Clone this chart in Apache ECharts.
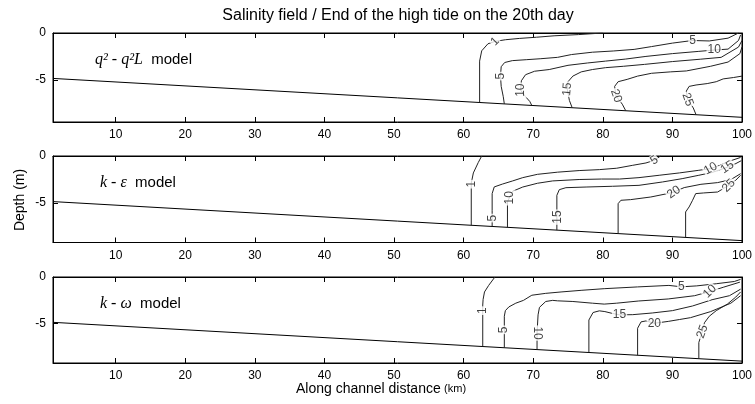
<!DOCTYPE html>
<html><head><meta charset="utf-8">
<script src="https://cdn.jsdelivr.net/npm/echarts@6/dist/echarts.min.js"></script>
<style>html,body{margin:0;padding:0;background:#fff}#c{width:755px;height:404px}</style>
</head><body><div id="c"></div>
<script>
// ---------- data ----------
const xTicks = [10, 20, 30, 40, 50, 60, 70, 80, 90, 100];
const yTicks = [0, -5];
const bottomLine = [[1, -4.85], [100, -9.0]];

// Panel 1: q2 - q2L model
const p1c1 = [[62.3,-7.42],[62.3,-3.0],[62.6,-1.9],[63.5,-1.15],[64.5,-0.9],[66,-0.72],[68,-0.58],[70.5,-0.45],[73,-0.3],[76.5,-0.17],[80,0]];
const p1c5 = [[65.85,-7.57],[65.7,-6.8],[65.4,-5.7],[65.3,-4.6],[65.4,-3.6],[65.9,-3.15],[67,-2.95],[69,-2.85],[71,-2.75],[73.5,-2.6],[75.5,-2.3],[78.5,-2.05],[81.5,-1.92],[84.5,-1.75],[87,-1.45],[90,-1.08],[92.9,-0.8],[95.3,-0.85],[98,-0.55],[99.5,0]];
const p1c10 = [[69.8,-7.73],[69.5,-7.3],[68.9,-6.8],[68.2,-6.1],[68.3,-5.1],[68.9,-4.45],[70.2,-4.08],[72.3,-3.9],[75,-3.45],[77.8,-3.2],[80.4,-3.0],[83.3,-2.78],[86.2,-2.5],[90,-2.2],[93.8,-1.96],[96,-1.82],[98,-1.72],[99.5,-0.8],[99.8,-0.2]];
const p1c15 = [[75.6,-7.98],[75.2,-7.2],[74.9,-6.0],[75.0,-5.2],[75.7,-4.6],[76.9,-4.15],[78.5,-3.9],[80.4,-3.7],[83,-3.55],[86,-3.35],[90,-3.05],[94,-2.8],[97,-2.6],[99.5,-1.5],[100,-0.8]];
const p1c20 = [[83.3,-8.3],[82.8,-7.6],[81.9,-6.72],[81.7,-5.7],[82.2,-5.2],[83.5,-4.95],[85,-4.6],[87,-4.3],[89.7,-4.15],[92,-4.05],[95.5,-3.55],[98,-3.1],[99.7,-2.2],[100,-1.5]];
const p1c25 = [[93.4,-8.72],[93.0,-8.0],[92.2,-7.1],[92.0,-6.2],[92.4,-5.7],[93.4,-5.55],[95,-5.4],[96.3,-5.2],[97.3,-4.9],[98.8,-4.75],[100,-4.6]];
const p1Labels = [[64.5,-0.9,'1'],[65.3,-4.6,'5'],[92.9,-0.8,'5'],[68.2,-6.1,'10'],[96,-1.82,'10'],[74.9,-6.0,'15'],[81.9,-6.72,'20'],[92.2,-7.1,'25']];
const p1Rot = [45, 90, 0, 90, 0, 85, -70, -70];

// Panel 2: k - epsilon model
const p2c1 = [[62.6,0],[62.1,-0.7],[61.4,-1.8],[61.1,-2.9],[61.1,-7.37]];
const p2c5 = [[64.1,-7.5],[64.1,-5.78],[64.1,-4.0],[64.4,-3.29],[65.6,-2.98],[67.05,-2.65],[68.5,-2.3],[70.6,-1.95],[73.5,-1.72],[76.6,-1.55],[79.5,-1.45],[82,-1.3],[84.3,-0.99],[86.2,-0.74],[87.4,-0.46],[88.3,0]];
const p2c10 = [[66.3,-7.59],[66.3,-4.89],[66.6,-4.4],[67.05,-3.75],[68.5,-3.3],[70.6,-2.9],[72.8,-2.65],[76.6,-2.5],[79.8,-2.45],[82.4,-2.45],[85.2,-2.3],[88.1,-2.05],[91,-1.8],[93.8,-1.52],[95.5,-1.34],[96.8,-1.0],[98,-0.6],[99.8,-0.15]];
const p2c15 = [[73.4,-7.885],[73.4,-6.5],[73.4,-4.18],[73.75,-3.58],[74.7,-3.37],[77.6,-3.3],[81.4,-3.22],[85.2,-3.12],[88.6,-2.76],[91.4,-2.41],[93.8,-2.05],[95.7,-1.75],[97.9,-1.2],[99,-0.85],[99.9,-0.5]];
const p2c20 = [[82.2,-8.25],[82.2,-5.07],[82.6,-4.71],[84.0,-4.64],[86.9,-4.36],[89.3,-4.0],[90.2,-3.83],[91.7,-3.36],[94.1,-3.01],[96.5,-2.83],[98.4,-2.51],[99.8,-1.88]];
const p2c25 = [[91.9,-8.66],[91.9,-5.95],[92.4,-5.42],[92.9,-4.71],[93.35,-4.0],[94.5,-3.93],[96.5,-3.83],[98.1,-3.12],[99.1,-2.58],[99.8,-2.05]];
const p2Labels = [[61.1,-3.0,'1'],[64.2,-6.6,'5'],[87.4,-0.46,'5'],[66.6,-4.45,'10'],[95.5,-1.34,'10'],[73.45,-6.5,'15'],[97.9,-1.2,'15'],[90.2,-3.85,'20'],[98.1,-3.15,'25']];
const p2Rot = [90, 90, 35, 90, 30, 90, 35, 35, 45];

// Panel 3: k - omega model
const p3c1 = [[64.5,0],[63.6,-0.9],[63.0,-1.6],[62.8,-2.4],[62.75,-3.0],[62.75,-7.44]];
const p3c5 = [[65.85,-7.57],[65.85,-5.65],[65.85,-4.2],[66.0,-3.6],[66.5,-3.2],[67.5,-2.8],[68.6,-2.5],[69.8,-1.95],[71.8,-1.75],[74,-1.6],[77,-1.42],[80.2,-1.25],[85,-1.06],[89.5,-0.9],[91.3,-1.05],[93.5,-0.95],[96.3,-0.72],[98.9,-0.48],[99.8,-0.25]];
const p3c10 = [[70.55,-7.76],[70.55,-6.0],[70.7,-4.05],[70.9,-3.25],[71.8,-2.62],[72.8,-2.5],[73.5,-2.55],[75.7,-2.62],[78.5,-2.8],[80.2,-2.9],[82,-2.8],[85.1,-2.57],[89.4,-2.35],[93.2,-2.0],[95.4,-1.55],[97.3,-1.1],[99.7,-0.55]];
const p3c15 = [[78.0,-8.07],[78.0,-4.6],[78.6,-3.8],[79.5,-3.62],[80.3,-3.7],[81.4,-3.9],[82.4,-4.05],[84.3,-4.03],[87.1,-3.85],[90,-3.6],[92.9,-3.1],[95.7,-2.43],[98.2,-2.0],[99.8,-1.3]];
const p3c20 = [[85,-8.37],[85,-5.48],[85.5,-4.8],[86.2,-4.7],[87.4,-4.95],[89.4,-4.75],[91,-4.55],[92.6,-4.35],[95.5,-3.7],[98.4,-2.8],[99.8,-2.0]];
const p3c25 = [[93.8,-8.74],[93.8,-7.0],[94.3,-5.83],[94.6,-4.9],[95.3,-4.2],[96.3,-3.6],[97.9,-2.9],[99.1,-2.15],[99.8,-1.6]];
const p3Labels = [[62.75,-3.6,'1'],[65.7,-5.65,'5'],[91.3,-1.05,'5'],[70.55,-6.0,'10'],[95.4,-1.55,'10'],[82.4,-4.05,'15'],[87.4,-5.0,'20'],[94.3,-5.83,'25']];
const p3Rot = [90, 90, 0, -90, 45, 0, 0, 70];

const modelNames = ['{i|q² - q²L}  {m|model}', '{i|k - ε}  {m|model}', '{i|k - ω}  {m|model}'];

// ---------- layout ----------
const panels = [
  {top: 33, height: 89, ymin: -9.5, lines: [p1c1,p1c5,p1c10,p1c15,p1c20,p1c25], labels: p1Labels, rot: p1Rot, mx: 95},
  {top: 156, height: 86.5, ymin: -9.2, lines: [p2c1,p2c5,p2c10,p2c15,p2c20,p2c25], labels: p2Labels, rot: p2Rot, mx: 100},
  {top: 277, height: 86, ymin: -9.2, lines: [p3c1,p3c5,p3c10,p3c15,p3c20,p3c25], labels: p3Labels, rot: p3Rot, mx: 100}
];

const FONT = 'Arial, "Liberation Sans", sans-serif';
const grid = [], xAxis = [], yAxis = [], series = [], graphic = [];
const mkLine = () => ({show: true, onZero: false, lineStyle: {color: '#000', width: 1}});
const mkTick = () => ({show: true, inside: true, length: 5, lineStyle: {color: '#000', width: 1}});
const xFmt = v => (xTicks.indexOf(v) >= 0 ? String(v) : '');
const yFmt = v => (yTicks.indexOf(v) >= 0 ? String(v) : '');

panels.forEach((p, i) => {
  grid.push({left: 53, width: 690, top: p.top, height: p.height, containLabel: false,
    show: true, borderColor: '#000', borderWidth: 1, backgroundColor: 'transparent'});
  xAxis.push({gridIndex: i, type: 'value', min: 1, max: 100, splitNumber: 10, position: 'bottom',
    axisLine: mkLine(), axisTick: mkTick(),
    axisLabel: {formatter: xFmt, color: '#000', fontSize: 12, fontFamily: FONT, margin: 7},
    splitLine: {show: false}});
  xAxis.push({gridIndex: i, type: 'value', min: 1, max: 100, splitNumber: 10, position: 'top',
    axisLine: mkLine(), axisTick: mkTick(), axisLabel: {show: false}, splitLine: {show: false}});
  yAxis.push({gridIndex: i, type: 'value', min: p.ymin, max: 0, splitNumber: 2, position: 'left',
    axisLine: mkLine(), axisTick: mkTick(),
    axisLabel: {formatter: yFmt, color: '#000', fontSize: 12, fontFamily: FONT, margin: 7},
    splitLine: {show: false}});
  yAxis.push({gridIndex: i, type: 'value', min: p.ymin, max: 0, splitNumber: 2, position: 'right',
    axisLine: mkLine(), axisTick: mkTick(), axisLabel: {show: false}, splitLine: {show: false}});

  series.push({type: 'line', xAxisIndex: 2*i, yAxisIndex: 2*i, data: bottomLine,
    showSymbol: false, symbol: 'none', lineStyle: {color: '#000', width: 1}, silent: true, z: 3});
  p.lines.forEach(d => {
    series.push({type: 'line', xAxisIndex: 2*i, yAxisIndex: 2*i, data: d,
      showSymbol: false, symbol: 'none', lineStyle: {color: '#222', width: 1}, silent: true, z: 3});
  });
  series.push({type: 'scatter', xAxisIndex: 2*i, yAxisIndex: 2*i, symbolSize: 1, z: 10, silent: true,
    itemStyle: {color: 'rgba(0,0,0,0)'},
    label: {show: true, position: 'inside', color: '#111', fontSize: 12, fontFamily: FONT,
      backgroundColor: '#fff', padding: [0, 1], lineHeight: 12},
    data: p.labels.map((l, k) => ({value: [l[0], l[1]], label: {formatter: l[2], rotate: p.rot[k]}}))});

  graphic.push({type: 'text', left: p.mx, top: p.top + 19, silent: true,
    style: {text: modelNames[i], fill: '#000', font: '15px ' + FONT,
      rich: {i: {fontFamily: '"Liberation Serif", "Times New Roman", serif', fontStyle: 'italic', fontSize: 16, fill: '#000'},
             m: {fontFamily: FONT, fontSize: 15, fill: '#000'}}}});
});

graphic.push({type: 'text', x: 398, y: 16, silent: true,
  style: {text: 'Salinity field / End of the high tide on the 20th day', fill: '#000', font: '16px ' + FONT,
    align: 'center', verticalAlign: 'middle'}});
graphic.push({type: 'text', x: 20, y: 200, rotation: Math.PI/2, silent: true,
  style: {text: 'Depth (m)', fill: '#000', font: '14px ' + FONT, align: 'center', verticalAlign: 'middle'}});
graphic.push({type: 'text', x: 381, y: 389, silent: true,
  style: {text: '{a|Along channel distance} {b|(km)}', align: 'center', verticalAlign: 'middle',
    rich: {a: {fontSize: 14, fontFamily: FONT, fill: '#000'}, b: {fontSize: 11, fontFamily: FONT, fill: '#000'}}}});

const chart = echarts.init(document.getElementById('c'), null, {renderer: 'canvas'});
chart.setOption({backgroundColor: '#fff', animation: false, grid, xAxis, yAxis, series, graphic});
</script></body></html>
